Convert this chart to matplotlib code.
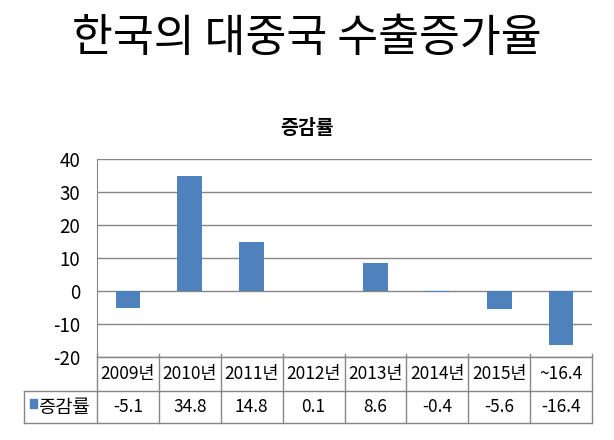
import matplotlib
matplotlib.use("Agg")
import matplotlib.pyplot as plt
from matplotlib.lines import Line2D
from matplotlib.patches import Rectangle

plt.rcParams['font.family'] = ['Noto Sans CJK KR', 'DejaVu Sans']

categories = ['2009년', '2010년', '2011년', '2012년', '2013년', '2014년', '2015년', '~16.4']
values = [-5.1, 34.8, 14.8, 0.1, 8.6, -0.4, -5.6, -16.4]
series_name = '증감률'
yticks = [-20, -10, 0, 10, 20, 30, 40]

W, H = 614, 440
fig = plt.figure(figsize=(W / 100, H / 100), dpi=100)

bar_color = '#4f81bd'
grid_color = '#868686'

left, right, top, bottom = 97, 592, 159, 357
ax = fig.add_axes([left / W, 1 - bottom / H, (right - left) / W, (bottom - top) / H])
n = len(categories)
x = list(range(n))
ax.bar(x, values, width=0.4, color=bar_color, zorder=3)
ax.set_xlim(-0.5, n - 0.5)
ax.set_ylim(-20, 40)
ax.set_yticks(yticks)
ax.set_yticklabels([str(t) for t in yticks], fontsize=13.5)
ax.tick_params(axis='y', length=0, pad=12)
ax.set_xticks([])
for s in ['top', 'right', 'bottom']:
    ax.spines[s].set_visible(False)
ax.spines['left'].set_color(grid_color)
ax.yaxis.grid(True, color=grid_color, linewidth=1.0, zorder=0)
ax.set_axisbelow(True)

def fx(px):
    return px / W
def fy(py):
    return 1 - py / H

fig.text(fx(307), fy(38), '한국의 대중국 수출증가율', ha='center', va='center', fontsize=32)
fig.text(fx(307), fy(128), series_name, ha='center', va='center', fontsize=14, fontweight='bold')

# data table below the axis
r0, r1, r2 = 357, 391, 423
legend_left = 24
colw = (right - left) / n
lw = 1.0
fig.add_artist(Line2D([fx(left), fx(right)], [fy(r0), fy(r0)], color=grid_color, lw=lw))
fig.add_artist(Line2D([fx(legend_left), fx(right)], [fy(r1), fy(r1)], color=grid_color, lw=lw))
fig.add_artist(Line2D([fx(legend_left), fx(right)], [fy(r2), fy(r2)], color=grid_color, lw=lw))
fig.add_artist(Line2D([fx(legend_left), fx(legend_left)], [fy(r1), fy(r2)], color=grid_color, lw=lw))
for i in range(n + 1):
    xp = left + i * colw
    fig.add_artist(Line2D([fx(xp), fx(xp)], [fy(r0 - 3), fy(r2)], color=grid_color, lw=lw))

for i, (c, v) in enumerate(zip(categories, values)):
    xc = left + (i + 0.5) * colw
    fig.text(fx(xc), fy((r0 + r1) / 2), c, ha='center', va='center', fontsize=12.5)
    fig.text(fx(xc), fy((r1 + r2) / 2), f'{v:g}', ha='center', va='center', fontsize=12.5)

fig.add_artist(Rectangle((fx(30), fy(408)), 7 / W, 9 / H, color=bar_color))
fig.text(fx(38), fy((r1 + r2) / 2), series_name, ha='left', va='center', fontsize=13.5)

fig.savefig('out.png', dpi=100)
